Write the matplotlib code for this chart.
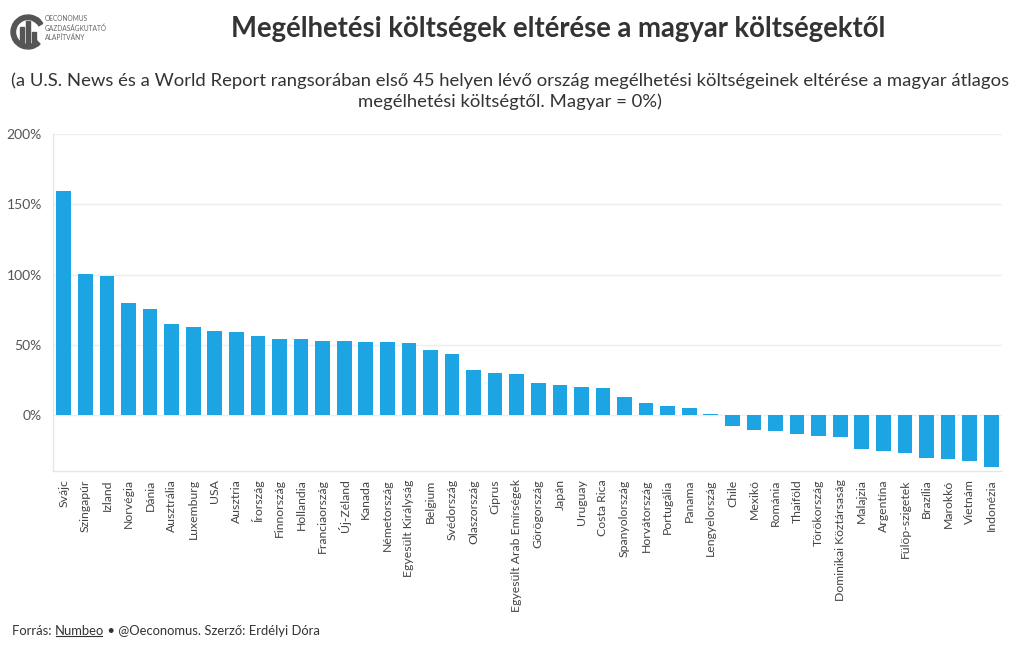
import matplotlib.pyplot as plt
from matplotlib.patches import Rectangle, Wedge
import numpy as np

countries = [
    "Svájc", "Szingapúr", "Izland", "Norvégia", "Dánia", "Ausztrália", "Luxemburg",
    "USA", "Ausztria", "Írország", "Finnország", "Hollandia", "Franciaország",
    "Új-Zéland", "Kanada", "Németország", "Egyesült Királyság", "Belgium",
    "Svédország", "Olaszország", "Ciprus", "Egyesült Arab Emírségek", "Görögország",
    "Japán", "Uruguay", "Costa Rica", "Spanyolország", "Horvátország", "Portugália",
    "Panama", "Lengyelország", "Chile", "Mexikó", "Románia", "Thaiföld",
    "Törökország", "Dominikai Köztársaság", "Malajzia", "Argentína",
    "Fülöp-szigetek", "Brazília", "Marokkó", "Vietnám", "Indonézia",
]
diff_pct = [
    159.2, 100.8, 98.9, 79.7, 75.4, 64.8, 62.9,
    60.0, 59.3, 56.2, 54.3, 54.1, 53.1,
    53.1, 52.2, 52.0, 51.5, 46.5,
    43.7, 32.5, 30.1, 29.1, 23.0,
    21.8, 20.2, 19.5, 13.3, 8.8, 6.9,
    5.0, 0.9, -7.4, -10.7, -11.2, -13.5,
    -14.7, -15.7, -23.7, -25.4,
    -26.6, -30.4, -30.8, -32.7, -36.5,
]
y_ticks = [0, 50, 100, 150, 200]

title = "Megélhetési költségek eltérése a magyar költségektől"
subtitle = ("(a U.S. News és a World Report rangsorában első 45 helyen lévő ország megélhetési "
            "költségeinek eltérése a magyar átlagos\nmegélhetési költségtől. Magyar = 0%)")

plt.rcParams["font.family"] = ["Lato", "DejaVu Sans"]

bar_color = "#1ca5e2"
text_color = "#333333"
grid_color = "#eeeeee"

fig = plt.figure(figsize=(10.2, 6.5), dpi=100)
ax = fig.add_axes([53 / 1020, 1 - 471 / 650, (1002 - 53) / 1020, (471 - 134) / 650])

x = np.arange(len(countries))
ax.bar(x, diff_pct, width=0.68, color=bar_color, zorder=3)

ax.set_xlim(-0.5, len(countries) - 0.5)
ax.set_ylim(-39.6, 200)
ax.set_yticks(y_ticks)
ax.set_yticklabels([f"{v}%" for v in y_ticks])
ax.set_xticks(x)
ax.set_xticklabels(countries, rotation=90, fontsize=8.8, color="#444444")
ax.tick_params(axis="y", length=0, pad=8, labelsize=10, labelcolor="#555555")
ax.tick_params(axis="x", length=0, pad=6)
ax.grid(True, axis="y", color=grid_color, linewidth=1, zorder=0)
for side in ["top", "right"]:
    ax.spines[side].set_visible(False)
for side in ["left", "bottom"]:
    ax.spines[side].set_color("#e6e6e6")
    ax.spines[side].set_linewidth(1)

fig.text(558 / 1020, 1 - 29 / 650, title, ha="center", va="center",
         fontsize=19.8, fontweight="bold", color=text_color)
fig.text(510 / 1020, 1 - 91 / 650, subtitle, ha="center", va="center",
         fontsize=13.3, color=text_color, linespacing=1.35)

# simple logo stand-in: a "C" ring with three bars, drawn in pixel units
logo = fig.add_axes([10 / 1020, 1 - 54 / 650, 36 / 1020, 44 / 650])
logo.set_xlim(0, 36)
logo.set_ylim(44, 0)
logo.axis("off")
logo.add_patch(Wedge((18, 22), 17, 45, 315, width=4.5, color="#555555"))
logo.add_patch(Wedge((18, 22), 17, 300, 330, width=4.5, color="#555555"))
for lx, ly, lw, lh in [(10, 17, 4.5, 17), (16, 11, 4.5, 23), (22, 22, 4.5, 12)]:
    logo.add_patch(Rectangle((lx, ly), lw, lh, color="#555555"))
fig.text(45 / 1020, 1 - 28 / 650, "OECONOMUS\nGAZDASÁGKUTATÓ\nALAPÍTVÁNY",
         ha="left", va="center", fontsize=4.8, color="#666666", linespacing=1.3)

# footer with underlined source link
renderer = fig.canvas.get_renderer()
fy = 1 - 631 / 650
pieces = [("Forrás: ", False), ("Numbeo", True), (" • @Oeconomus. Szerző: Erdélyi Dóra", False)]
cur_x = 12 / 1020
for txt, underline in pieces:
    t = fig.text(cur_x, fy, txt, ha="left", va="center", fontsize=9.4, color=text_color)
    bb = t.get_window_extent(renderer=renderer)
    if underline:
        ul_y = (bb.y0 + 1) / 650
        fig.add_artist(plt.Line2D([(bb.x0 + 1) / 1020, (bb.x1 - 2) / 1020], [ul_y, ul_y],
                                  color=text_color, linewidth=0.8))
    cur_x = bb.x1 / 1020

fig.savefig("out.png", dpi=100)
